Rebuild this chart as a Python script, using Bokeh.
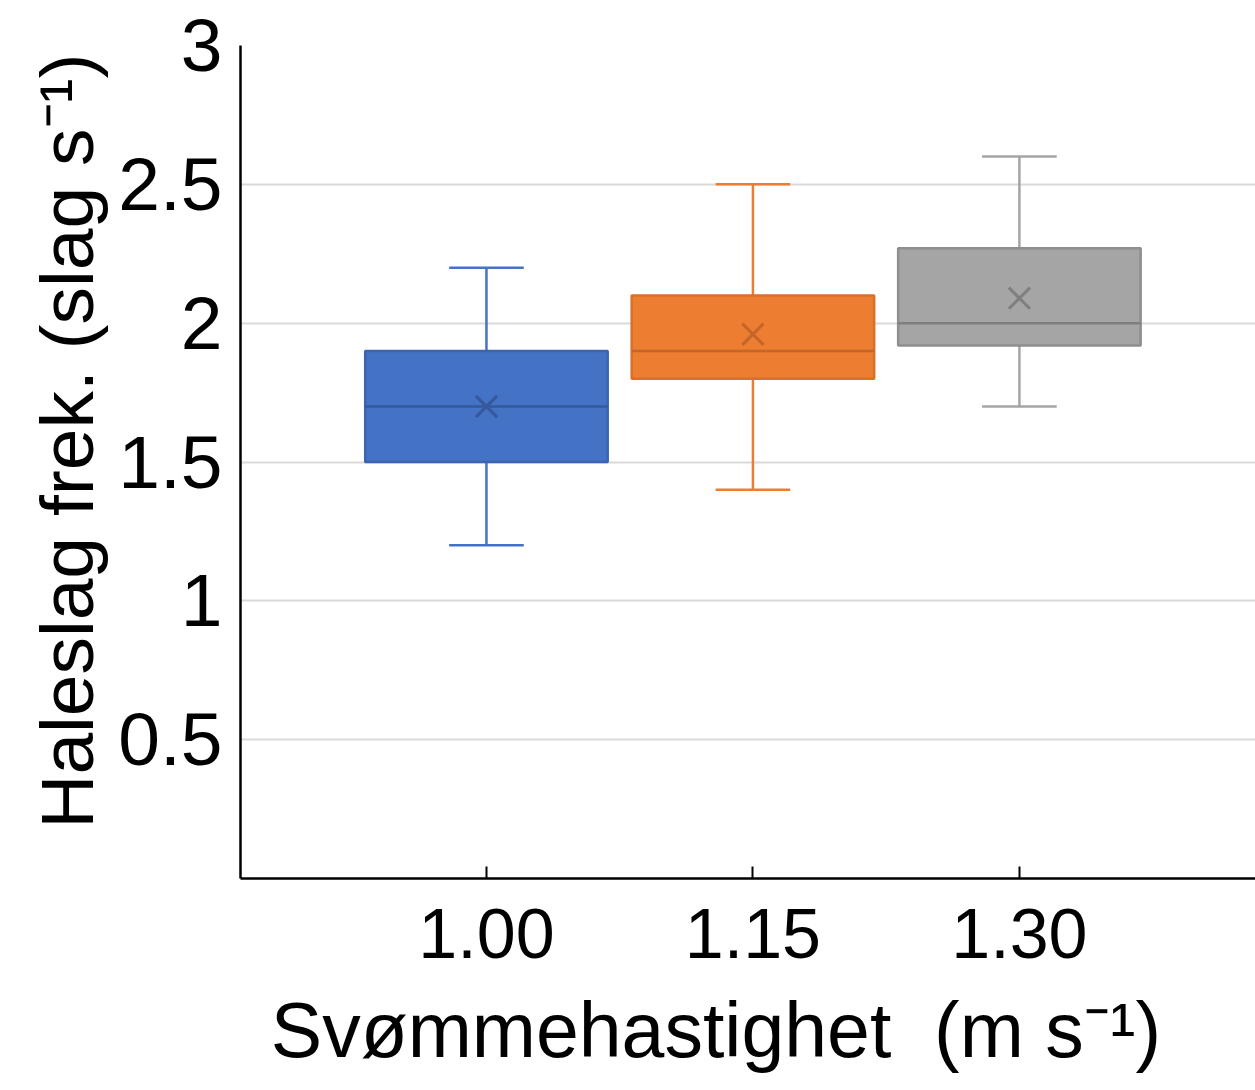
from bokeh.plotting import figure
from bokeh.models import ColumnDataSource, FixedTicker, Range1d
from bokeh.embed import file_html
from bokeh.resources import INLINE

# Tail-beat frequency per swimming speed (box-plot summary statistics)
speed_labels = ["1.00", "1.15", "1.30"]
whisker_low = [1.2, 1.4, 1.7]
quartile_1 = [1.5, 1.8, 1.92]
medians = [1.7, 1.9, 2.0]
quartile_3 = [1.9, 2.1, 2.27]
whisker_high = [2.2, 2.5, 2.6]
means = [1.7, 1.96, 2.09]

y_ticks = [0.5, 1, 1.5, 2, 2.5, 3]

fill_colors = ["#4472C4", "#ED7D31", "#A5A5A5"]
edge_colors = ["#3B65B0", "#D96F2A", "#8E8E8E"]
mark_colors = ["#35599C", "#C4652A", "#7F7F7F"]

FONT = "Liberation Sans"
BOX_W = 0.91
CAP_W = 0.28
NB = "\u00a0"

pos = [i + 1 for i in range(len(speed_labels))]
src = ColumnDataSource(dict(
    x=pos,
    q1=quartile_1, q3=quartile_3, med=medians, lo=whisker_low, hi=whisker_high, mean=means,
    box_l=[x - BOX_W / 2 for x in pos], box_r=[x + BOX_W / 2 for x in pos],
    cap_l=[x - CAP_W / 2 for x in pos], cap_r=[x + CAP_W / 2 for x in pos],
    fill=fill_colors, edge=edge_colors, mark=mark_colors,
))

p = figure(width=1255, height=1090, output_backend="svg", toolbar_location=None,
           x_range=Range1d(0.077, 3.886), y_range=Range1d(0, 3),
           min_border_left=240, min_border_right=0, min_border_top=45, min_border_bottom=212)
p.outline_line_color = None
p.background_fill_color = "white"
p.border_fill_color = "white"

# whiskers and caps
p.segment(x0="x", y0="q3", x1="x", y1="hi", source=src, line_color="fill", line_width=2.5)
p.segment(x0="x", y0="lo", x1="x", y1="q1", source=src, line_color="fill", line_width=2.5)
p.segment(x0="cap_l", y0="hi", x1="cap_r", y1="hi", source=src, line_color="fill", line_width=2.5)
p.segment(x0="cap_l", y0="lo", x1="cap_r", y1="lo", source=src, line_color="fill", line_width=2.5)

# boxes
p.vbar(x="x", width=BOX_W, bottom="q1", top="q3", source=src,
       fill_color="fill", line_color="edge", line_width=2.5)
# medians
p.segment(x0="box_l", y0="med", x1="box_r", y1="med", source=src, line_color="mark", line_width=2.5)
# means
p.scatter(x="x", y="mean", source=src, marker="x", size=30, line_color="mark", line_width=3)

# x axis
p.xaxis.ticker = FixedTicker(ticks=pos)
p.xaxis.major_label_overrides = {x: s for x, s in zip(pos, speed_labels)}
p.xaxis.axis_label = "Svømmehastighet" + NB * 2 + "(m s⁻¹)" + NB * 3
p.xaxis.major_tick_in = 12
p.xaxis.major_tick_out = 0
p.xaxis.minor_tick_line_color = None
p.xaxis.major_label_standoff = 30
p.xaxis.axis_label_standoff = 26

# y axis
p.yaxis.ticker = FixedTicker(ticks=y_ticks)
p.yaxis.axis_label = NB * 2 + "Haleslag frek. (slag s⁻¹)"
p.yaxis.major_tick_in = 0
p.yaxis.major_tick_out = 0
p.yaxis.minor_tick_line_color = None
p.yaxis.major_label_standoff = 18
p.yaxis.axis_label_standoff = 6

for ax in (p.xaxis, p.yaxis):
    ax.axis_line_color = "black"
    ax.axis_line_width = 2.5
    ax.major_tick_line_color = "black"
    ax.major_tick_line_width = 2
    ax.major_label_text_font = FONT
    ax.major_label_text_color = "black"
    ax.axis_label_text_font = FONT
    ax.axis_label_text_font_style = "normal"
    ax.axis_label_text_color = "black"
p.xaxis.major_label_text_font_size = "70px"
p.yaxis.major_label_text_font_size = "75px"
p.xaxis.axis_label_text_font_size = "77px"
p.yaxis.axis_label_text_font_size = "75px"

p.xgrid.grid_line_color = None
p.ygrid.grid_line_color = "#D9D9D9"
p.ygrid.grid_line_width = 2

open("out.html", "w").write(file_html(p, INLINE))
